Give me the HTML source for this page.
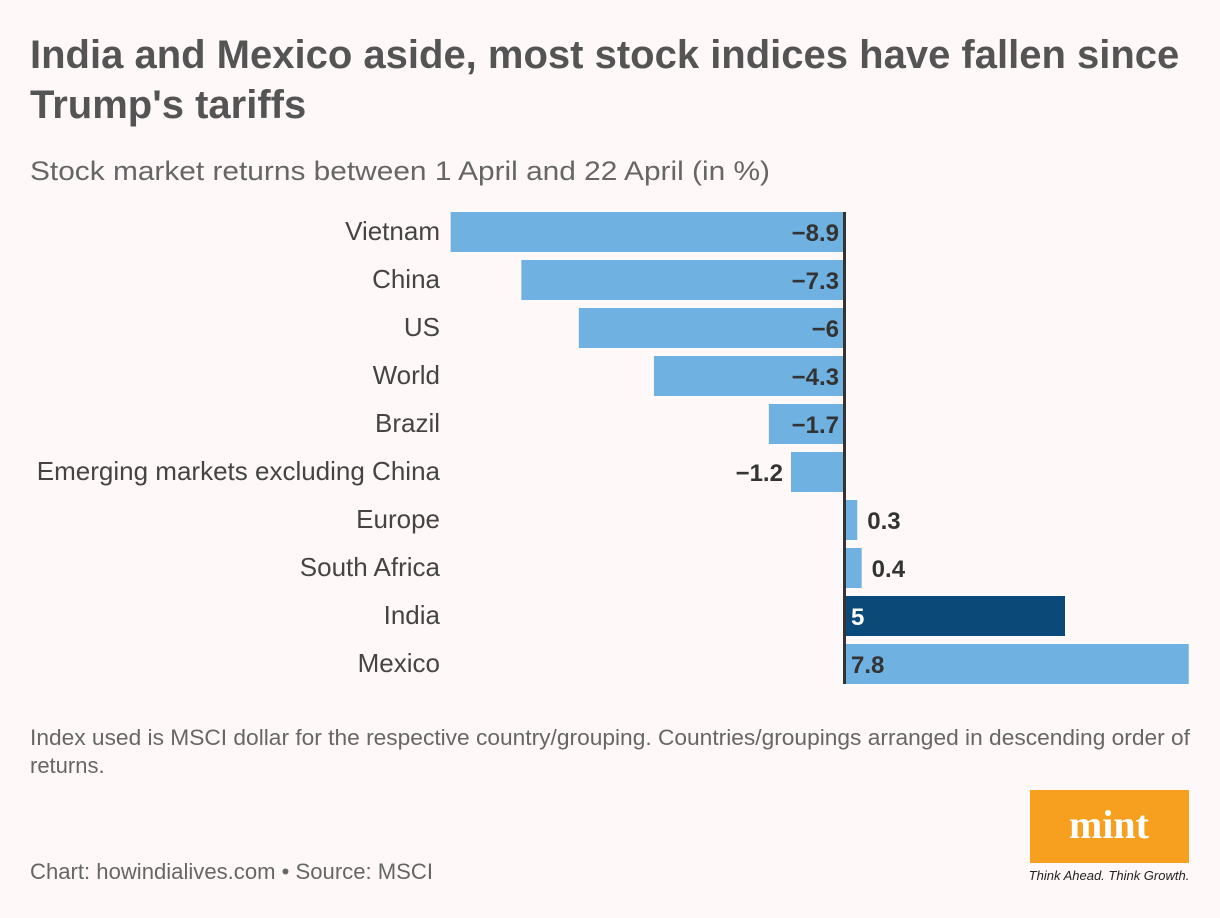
<!DOCTYPE html>
<html><head><meta charset="utf-8"><style>
body{margin:0;background:#fff8f8;width:1220px;height:918px;overflow:hidden;font-family:"Liberation Sans",sans-serif;}
svg{display:block}
</style></head><body>
<svg id="chart" width="1220" height="918" xmlns="http://www.w3.org/2000/svg">
<rect width="1220" height="918" fill="#fff8f8"/>
<text x="30" y="68" font-size="40" font-weight="bold" fill="#545454">India and Mexico aside, most stock indices have fallen since</text>
<text x="30" y="118" font-size="40" font-weight="bold" fill="#545454">Trump's tariffs</text>
<text x="30" y="180" font-size="27" fill="#666" textLength="740" lengthAdjust="spacingAndGlyphs">Stock market returns between 1 April and 22 April (in %)</text>
<g id="bars"></g>
<text x="30" y="745" font-size="22" fill="#666" textLength="1160" lengthAdjust="spacingAndGlyphs">Index used is MSCI dollar for the respective country/grouping. Countries/groupings arranged in descending order of</text>
<text x="30" y="773" font-size="22" fill="#666">returns.</text>
<text x="30" y="879" font-size="22" fill="#666" textLength="403" lengthAdjust="spacingAndGlyphs">Chart: howindialives.com • Source: MSCI</text>
<g>
<rect x="1030" y="790" width="159" height="73" fill="#f7a01f"/>
<text x="1109" y="838" font-size="40" font-weight="bold" font-family="Liberation Serif,serif" fill="#fff" text-anchor="middle">mint</text>
<text x="1109" y="880" font-size="13" font-style="italic" fill="#222" text-anchor="middle">Think Ahead. Think Growth.</text>
</g>
</svg>
<script>
const categories=["Vietnam","China","US","World","Brazil","Emerging markets excluding China","Europe","South Africa","India","Mexico"];
const values=[-8.9,-7.3,-6,-4.3,-1.7,-1.2,0.3,0.4,5,7.8];
const labels=["−8.9","−7.3","−6","−4.3","−1.7","−1.2","0.3","0.4","5","7.8"];
const NS="http://www.w3.org/2000/svg";
const g=document.getElementById('bars');
const zeroX=844, pxPerUnit=44.2, top0=212, pitch=48, bh=40;
const x=v=>zeroX+v*pxPerUnit;
const y=i=>top0+i*pitch;
function mk(t,a){const e=document.createElementNS(NS,t);for(const k in a)e.setAttribute(k,a[k]);g.appendChild(e);return e;}
categories.forEach((c,i)=>{
  const v=values[i];
  const r=mk('rect',{x:Math.min(x(v),zeroX),y:y(i),width:Math.abs(x(v)-zeroX),height:bh,fill:c==="India"?"#0b4a78":"#6fb2e2"});
  
  
  const l=mk('text',{x:440,y:y(i)+28,'font-size':26,fill:'#444','text-anchor':'end'});
  l.textContent=c;
  
  
  const w=Math.abs(x(v)-zeroX);
  let tx,anchor,fill="#333";
  if(v<0){ if(w>70){tx=zeroX-5;anchor='end';}else{tx=x(v)-8;anchor='end';} }
  else { if(w>50){tx=zeroX+7;anchor='start';fill=c==="India"?"#fff":"#333";}else{tx=x(v)+10;anchor='start';} }
  const vl=mk('text',{x:tx,y:y(i)+29,'font-size':24,'font-weight':'bold',fill:fill,'text-anchor':anchor});
  vl.textContent=labels[i];
  
  
});
const ax=mk('rect',{x:zeroX-1,y:top0,width:3,height:pitch*categories.length-8,fill:'#333'});


</script>
</body></html>
